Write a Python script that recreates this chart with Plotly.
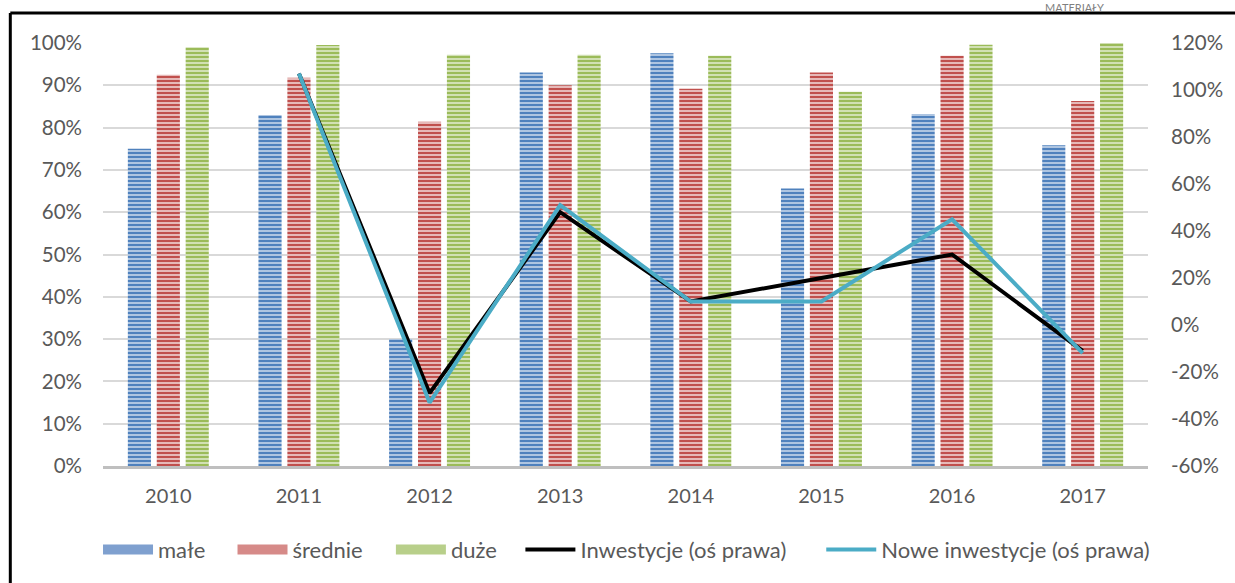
import plotly.graph_objects as go

# Data
years = ['2010', '2011', '2012', '2013', '2014', '2015', '2016', '2017']
male = [75, 83, 30, 93, 97.6, 65.6, 83.2, 75.8]
srednie = [92.5, 91.8, 81.4, 90, 89.2, 93, 97, 86.3]
duze = [99, 99.5, 97.2, 97.2, 97, 88.5, 99.6, 100]
inwestycje = [None, 107, -29, 48, 10, 20, 30, -11]
nowe_inwestycje = [None, 107, -33, 51, 10, 10, 45, -12]

left_ticks = [0, 10, 20, 30, 40, 50, 60, 70, 80, 90, 100]
left_labels = ['0%', '10%', '20%', '30%', '40%', '50%', '60%', '70%', '80%', '90%', '100%']
right_ticks = [-60, -40, -20, 0, 20, 40, 60, 80, 100, 120]
right_labels = ['-60%', '-40%', '-20%', '0%', '20%', '40%', '60%', '80%', '100%', '120%']

FONT = 'Lato'
GRAY_TEXT = '#595959'

# plot area in pixels (used to place the legend entries like in Excel)
PLOT_L, PLOT_W = 103, 1049
legend_px = [98, 233, 392, 522, 824]

fig = go.Figure()

# Striped bars (Excel-style horizontal pattern)
bar_styles = [
    ('małe', male, '#B9CDE5', '#4F81BD', '#7FA0CF'),
    ('średnie', srednie, '#EBC5C4', '#C0504D', '#D68A88'),
    ('duże', duze, '#D7E4BD', '#9BBB59', '#B8CF8A'),
]
for name, vals, light, dark, mid in bar_styles:
    fig.add_trace(go.Bar(
        x=years,
        y=vals,
        name=name,
        legendgroup=name,
        showlegend=False,
        marker=dict(
            color=light,
            line=dict(width=0),
            pattern=dict(shape='-', fgcolor=dark, bgcolor=light,
                         size=4, solidity=0.55, fillmode='replace'),
        ),
        yaxis='y',
    ))

# legend swatches for bars: wide bands like the Excel legend
legend_ids = ['legend', 'legend2', 'legend3', 'legend4', 'legend5']
for i, (name, vals, light, dark, mid) in enumerate(bar_styles):
    fig.add_trace(go.Scatter(
        x=[None], y=[None], name=name, legendgroup=name, legend=legend_ids[i],
        mode='lines', line=dict(color=mid, width=10),
    ))

# Lines on the right axis
fig.add_trace(go.Scatter(
    x=years, y=inwestycje, name='Inwestycje (oś prawa)', legend='legend4',
    mode='lines', line=dict(color='black', width=4), yaxis='y2',
))
fig.add_trace(go.Scatter(
    x=years, y=nowe_inwestycje, name='Nowe inwestycje (oś prawa)', legend='legend5',
    mode='lines', line=dict(color='#4BACC6', width=4), yaxis='y2',
))

# Frame lines (left and top) and header text
fig.add_shape(type='line', xref='paper', yref='paper',
              x0=-0.0887, x1=-0.0887, y0=1.0708, y1=-0.35,
              line=dict(color='black', width=3))
fig.add_shape(type='line', xref='paper', yref='paper',
              x0=-0.0887, x1=1.12, y0=1.0708, y1=1.0708,
              line=dict(color='black', width=3))
fig.add_annotation(text='MATERIAŁY', xref='paper', yref='paper',
                   x=(1078 - 103) / 1049, y=(467 - 7.5) / 424,
                   xanchor='center', yanchor='middle', showarrow=False,
                   font=dict(family=FONT, size=11, color='#7F7F7F'))

legends = {}
for lid, px in zip(legend_ids, legend_px):
    legends[lid] = dict(
        orientation='h',
        x=(px - PLOT_L) / PLOT_W, xanchor='left',
        y=-0.198, yanchor='middle',
        font=dict(family=FONT, size=22, color=GRAY_TEXT),
        itemwidth=50,
        bgcolor='rgba(0,0,0,0)',
    )

fig.update_layout(
    width=1235,
    height=583,
    margin=dict(l=103, r=83, t=43, b=116),
    paper_bgcolor='white',
    plot_bgcolor='white',
    font=dict(family=FONT, size=20, color=GRAY_TEXT),
    barmode='group',
    bargap=0.336,
    bargroupgap=0.2,
    xaxis=dict(
        showline=True, linecolor='#BFBFBF', linewidth=3,
        showgrid=False, ticks='', ticklabelstandoff=10,
        tickfont=dict(family=FONT, size=20, color=GRAY_TEXT),
    ),
    yaxis=dict(
        range=[0, 100], tickvals=left_ticks, ticktext=left_labels,
        showgrid=True, gridcolor='#D9D9D9', gridwidth=1.5,
        zeroline=False, showline=False, ticks='',
        ticklabelstandoff=20,
        tickfont=dict(family=FONT, size=20.5, color=GRAY_TEXT),
    ),
    yaxis2=dict(
        range=[-60, 120], tickvals=right_ticks, ticktext=right_labels,
        overlaying='y', side='right',
        showgrid=False, zeroline=False, showline=False, ticks='',
        ticklabelstandoff=22,
        tickfont=dict(family=FONT, size=20.5, color=GRAY_TEXT),
    ),
    showlegend=True,
    **legends,
)

fig.write_html("out.html", config={'displayModeBar': False},
               post_script="document.body.style.margin='0';")
